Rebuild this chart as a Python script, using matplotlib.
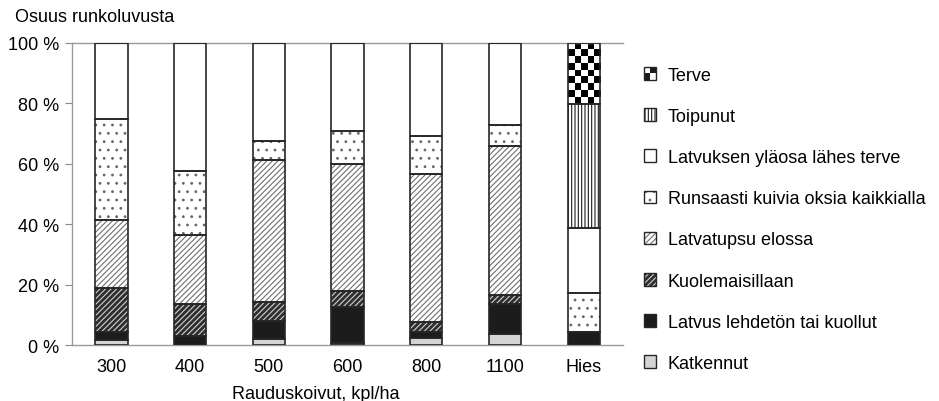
import numpy as np
import matplotlib
matplotlib.use('Agg')
import matplotlib.pyplot as plt
from matplotlib.patches import Rectangle
from matplotlib.legend_handler import HandlerBase

plt.rcParams['font.family'] = ['Liberation Sans', 'DejaVu Sans']
plt.rcParams['hatch.linewidth'] = 0.8

categories = ['300', '400', '500', '600', '800', '1100', 'Hies']
classes = ['Katkennut', 'Latvus lehdetön tai kuollut', 'Kuolemaisillaan',
           'Latvatupsu elossa', 'Runsaasti kuivia oksia kaikkialla',
           'Latvuksen yläosa lähes terve', 'Toipunut', 'Terve']

# shares (%) per class, bottom to top
katkennut = [1.7, 0.0, 2.0, 0.5, 2.2, 3.6, 0.0]
latvus_kuollut = [2.5, 3.1, 6.1, 12.0, 2.0, 10.0, 4.4]
kuolemaisillaan = [14.6, 10.5, 6.3, 5.5, 3.3, 3.0, 0.0]
latvatupsu = [22.7, 22.7, 46.8, 42.0, 49.0, 49.4, 0.0]
runsaasti = [33.3, 21.3, 6.4, 10.8, 12.7, 6.8, 12.8]
lahes_terve = [25.2, 42.4, 32.4, 29.2, 30.8, 27.2, 21.6]
toipunut = [0.0, 0.0, 0.0, 0.0, 0.0, 0.0, 41.0]
terve = [0.0, 0.0, 0.0, 0.0, 0.0, 0.0, 20.2]

series = [katkennut, latvus_kuollut, kuolemaisillaan, latvatupsu,
          runsaasti, lahes_terve, toipunut, terve]

# face colour, hatch colour, hatch
styles = [
    ('#d4d4d4', '#d4d4d4', None),
    ('#1c1c1c', '#1c1c1c', None),
    ('#2e2e2e', '#cfcfcf', '//////'),
    ('white', '#707070', '//////'),
    ('white', '#666666', '..'),
    ('white', 'white', None),
    ('white', '#1c1c1c', '|||||'),
    ('white', 'white', None),
]
EDGE = '#262626'
WIDTH = 0.41
FS = 13


def checker(ax, patch, ncols=5):
    x0, y0 = patch.get_x(), patch.get_y()
    w, h = patch.get_width(), patch.get_height()
    cell = w / ncols
    nrows = int(round(h / (cell * 78.75 / 3.02)))
    img = (np.indices((nrows, ncols)).sum(axis=0) % 2).astype(float)
    im = ax.imshow(img, cmap='gray_r', extent=(x0, x0 + w, y0, y0 + h),
                   aspect='auto', interpolation='nearest', zorder=2)
    im.set_clip_path(patch)


class CheckerHandler(HandlerBase):
    def create_artists(self, legend, orig_handle, xdescent, ydescent,
                       width, height, fontsize, trans):
        arts = []
        hw, hh = width / 2, height / 2
        for i in range(2):
            for j in range(2):
                c = '#1c1c1c' if (i + j) % 2 == 0 else 'white'
                r = Rectangle((-xdescent + i * hw, -ydescent + j * hh), hw, hh,
                              facecolor=c, edgecolor='none', transform=trans)
                arts.append(r)
        arts.append(Rectangle((-xdescent, -ydescent), width, height,
                              facecolor='none', edgecolor=EDGE, lw=1.0,
                              transform=trans))
        return arts


fig = plt.figure(figsize=(9.39, 4.02), dpi=100)
ax = fig.add_axes([0.0767, 0.1393, 0.5868, 0.7513])

x = np.arange(len(categories))
bottom = np.zeros(len(categories))
handles = []
for k, vals in enumerate(series):
    vals = np.array(vals)
    face, hcol, hatch = styles[k]
    bars = ax.bar(x, vals, WIDTH, bottom=bottom, color=face, edgecolor=hcol,
                  hatch=hatch, linewidth=0, zorder=2)
    if classes[k] == 'Terve':
        for b, v in zip(bars, vals):
            if v > 0:
                checker(ax, b)
    ax.bar(x, vals, WIDTH, bottom=bottom, fill=False, edgecolor=EDGE,
           linewidth=1.2, zorder=3)
    bottom += vals
    fillp = Rectangle((0, 0), 1, 1, facecolor=face, edgecolor=hcol, lw=0,
                      hatch=hatch)
    outl = Rectangle((0, 0), 1, 1, facecolor='none', edgecolor=EDGE, lw=1.0)
    handles.append((fillp, outl))

ax.set_xlim(-0.5, 6.5)
ax.set_ylim(0, 100)
ax.set_yticks(np.arange(0, 101, 20))
ax.set_yticklabels(['%d %%' % v for v in range(0, 101, 20)], fontsize=FS)
ax.set_xticks(x)
ax.set_xticklabels(categories, fontsize=FS)
ax.tick_params(axis='x', length=0, pad=9)
ax.tick_params(axis='y', length=5, color='#888888', pad=4)
for s in ['left', 'bottom', 'top']:
    ax.spines[s].set_color('#999999')
    ax.spines[s].set_linewidth(1.0)
ax.spines['right'].set_visible(False)

fig.text(0.016, 0.945, 'Osuus runkoluvusta', fontsize=FS, ha='left', va='baseline')
ax.text(2.6, -0.16, 'Rauduskoivut, kpl/ha', fontsize=FS, ha='center', va='center',
        transform=ax.get_xaxis_transform())

hidx = list(range(len(classes)))[::-1]
terve_handle = Rectangle((0, 0), 1, 1)
leg_handles = [terve_handle] + [handles[i] for i in hidx[1:]]
leg = fig.legend(leg_handles, [classes[i] for i in hidx],
                 loc='upper left', bbox_to_anchor=(0.668, 0.872), frameon=False,
                 fontsize=FS, handlelength=0.7, handleheight=0.7,
                 handletextpad=0.65, labelspacing=1.34,
                 handler_map={terve_handle: CheckerHandler()})

fig.savefig('out.png', dpi=100)
